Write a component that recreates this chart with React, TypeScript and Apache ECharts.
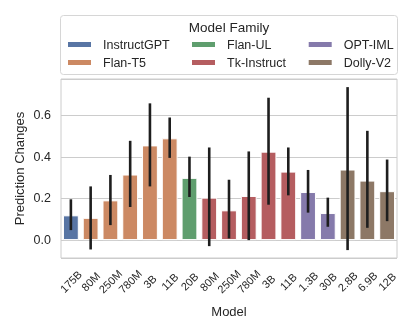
import React, { useEffect, useRef } from "react";
import * as echarts from "echarts";

const families = ["InstructGPT", "Flan-T5", "Flan-UL", "Tk-Instruct", "OPT-IML", "Dolly-V2"];
const familyColors = ["#5875A4", "#CC8963", "#5F9E6E", "#B55D60", "#857AAB", "#8D7866"];
const modelSizes = ["175B", "80M", "250M", "780M", "3B", "11B", "20B", "80M", "250M", "780M", "3B", "11B", "1.3B", "30B", "2.8B", "6.9B", "12B"];
const modelFamily = [0, 1, 1, 1, 1, 1, 2, 3, 3, 3, 3, 3, 4, 4, 5, 5, 5];
const meanChange = [0.119, 0.107, 0.191, 0.315, 0.455, 0.489, 0.299, 0.204, 0.143, 0.212, 0.425, 0.329, 0.231, 0.13, 0.339, 0.286, 0.235];
const ciLow = [0.048, -0.045, 0.072, 0.159, 0.258, 0.395, 0.207, -0.029, 0.008, 0.0, 0.17, 0.215, 0.132, 0.064, -0.048, 0.059, 0.091];
const ciHigh = [0.196, 0.258, 0.313, 0.477, 0.657, 0.589, 0.401, 0.445, 0.29, 0.426, 0.684, 0.445, 0.337, 0.204, 0.735, 0.525, 0.387];

const FONT = "'Liberation Sans', Arial, Helvetica, sans-serif";
const TXT = "#262626";

export default function App() {
  const ref = useRef<HTMLDivElement>(null);
  useEffect(() => {
    if (!ref.current) return;
    const chart = echarts.init(ref.current, null, { renderer: "svg" });
    const catIds = modelSizes.map((_, i) => String(i));
    const barSeries = families.map((fam, f) => ({
      name: fam,
      type: "bar",
      stack: "all",
      barCategoryGap: "20%",
      itemStyle: { color: familyColors[f], borderColor: "#ffffff", borderWidth: 1 },
      data: meanChange.map((v, i) => (modelFamily[i] === f ? v : null)),
      z: 2,
    }));
    const legendCol = (names: string[], left: number) => ({
      orient: "vertical",
      left,
      top: 37.5,
      padding: 0,
      itemWidth: 25,
      itemHeight: 7,
      itemGap: 4,
      icon: "rect",
      data: names,
      selectedMode: false,
      formatter: (name: string) => `{g|}${name}`,
      textStyle: {
        fontFamily: FONT,
        fontSize: 12.5,
        color: TXT,
        lineHeight: 14,
        rich: { g: { width: 6, fontSize: 12.5, lineHeight: 14 } },
      },
    });
    chart.setOption({
      animation: false,
      textStyle: { fontFamily: FONT },
      grid: { left: 61, right: 18, top: 79, bottom: 74, show: true, borderColor: "#cccccc", borderWidth: 1 },
      legend: [
        legendCol([families[0], families[1]], 66),
        legendCol([families[2], families[3]], 190),
        legendCol([families[4], families[5]], 306.7),
      ],
      graphic: [
        {
          type: "rect",
          shape: { x: 60.5, y: 15.5, width: 337, height: 59, r: 3 },
          style: { fill: "#ffffff", stroke: "#d6d6d6", lineWidth: 1 },
          z: -1,
        },
        {
          type: "text",
          x: 229,
          y: 27,
          style: { text: "Model Family", font: `13.5px ${FONT}`, fill: TXT, align: "center", verticalAlign: "middle" },
        },
      ],
      xAxis: {
        type: "category",
        data: catIds,
        name: "Model",
        nameLocation: "middle",
        nameGap: 47,
        nameMoveOverlap: false,
        nameTextStyle: { fontSize: 13, color: TXT, fontFamily: FONT },
        axisLine: { show: false },
        axisTick: { show: false },
        splitLine: { show: false },
        axisLabel: {
          interval: 0,
          rotate: 45,
          align: "center",
          verticalAlign: "middle",
          margin: 23.5,
          fontSize: 11,
          color: TXT,
          fontFamily: FONT,
          formatter: (_v: string, i: number) => modelSizes[i],
        },
      },
      yAxis: {
        type: "value",
        min: -0.086,
        max: 0.774,
        splitNumber: 4,
        name: "Prediction Changes",
        nameLocation: "middle",
        nameGap: 35,
        nameMoveOverlap: false,
        nameTextStyle: { fontSize: 13, color: TXT, fontFamily: FONT },
        axisLine: { show: false },
        axisTick: { show: false },
        splitLine: { lineStyle: { color: "#cccccc", width: 1 } },
        axisLabel: {
          showMinLabel: false,
          showMaxLabel: false,
          margin: 10,
          fontSize: 12.5,
          color: TXT,
          fontFamily: FONT,
          formatter: (v: number) => v.toFixed(1),
        },
      },
      series: [
        ...barSeries,
        {
          type: "custom",
          name: "ci",
          silent: true,
          z: 5,
          encode: { x: 0, y: [1, 2] },
          data: modelSizes.map((_, i) => [i, ciLow[i], ciHigh[i]]),
          renderItem: (_params: any, api: any) => {
            const x = api.value(0);
            const p1 = api.coord([x, api.value(1)]);
            const p2 = api.coord([x, api.value(2)]);
            return {
              type: "line",
              shape: { x1: p1[0], y1: p1[1], x2: p2[0], y2: p2[1] },
              style: { stroke: "#1e1e1e", lineWidth: 2.6 },
            };
          },
        },
      ],
    });
    return () => chart.dispose();
  }, []);
  return <div ref={ref} style={{ position: "fixed", left: 0, top: 0, width: 415, height: 332 }} />;
}
